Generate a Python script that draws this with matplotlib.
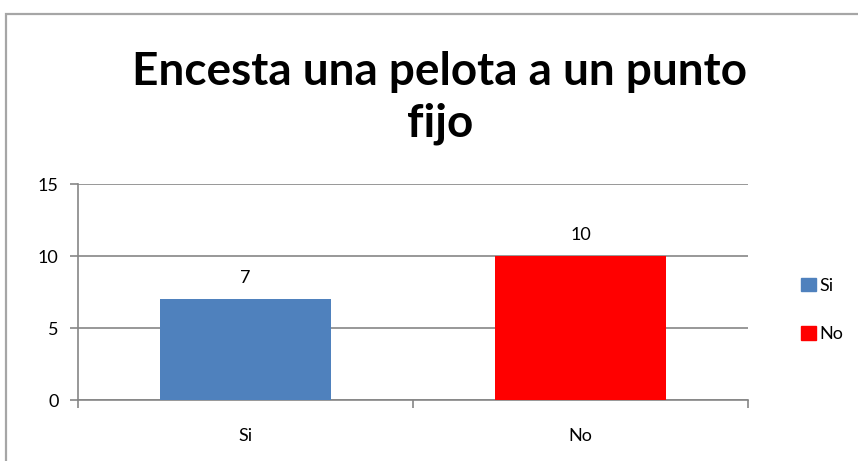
import matplotlib.pyplot as plt
import matplotlib.patches as mpatches

# Datos
categorias = ["Si", "No"]
valores = [7, 10]
colores = ["#4F81BD", "#FF0000"]
titulo = "Encesta una pelota a un punto\nfijo"
y_ticks = [0, 5, 10, 15]

plt.rcParams["font.family"] = ["Lato", "DejaVu Sans"]
gris = "#868686"

fig = plt.figure(figsize=(8.58, 4.61), dpi=100)
ax = fig.add_axes([78 / 858, 1 - 400 / 461, 670 / 858, 216 / 461])

# Marco del gráfico
borde = mpatches.Rectangle((6 / 858, -0.05), 1.1, 1 - 14 / 461 + 0.05, transform=fig.transFigure,
                           fill=False, edgecolor="#A6A6A6", linewidth=1.6, clip_on=False)
fig.patches.append(borde)

x = list(range(len(categorias)))
barras = ax.bar(x, valores, width=0.51, color=colores, zorder=3)
for xi, v in zip(x, valores):
    ax.text(xi, v + 0.9, str(v), ha="center", va="bottom", fontsize=13)

ax.set_xlim(-0.5, 1.5)
ax.set_ylim(0, 15)
ax.set_yticks(y_ticks)
ax.yaxis.grid(True, color=gris, linewidth=1.2, zorder=0)
ax.set_axisbelow(True)

ax.set_xticks([-0.5, 0.5, 1.5])
ax.set_xticklabels([])
ax.set_xticks(x, minor=True)
ax.set_xticklabels(categorias, minor=True, fontsize=13)
ax.tick_params(axis="x", which="minor", length=0, pad=20)
ax.tick_params(axis="x", which="major", length=6, color=gris, width=1.2)
ax.tick_params(axis="y", length=6, color=gris, width=1.2, labelsize=13, pad=8)

for lado in ["top", "right"]:
    ax.spines[lado].set_visible(False)
for lado in ["left", "bottom"]:
    ax.spines[lado].set_color(gris)
    ax.spines[lado].set_linewidth(1.2)

fig.text(440 / 858, 1 - 98 / 461, titulo, ha="center", va="center", fontsize=33,
         fontweight="bold", linespacing=1.3)

handles = [mpatches.Patch(color=c, label=l) for c, l in zip(colores, categorias)]
fig.legend(handles=handles, loc="center left", bbox_to_anchor=(785 / 858, 1 - 310 / 461),
           frameon=False, fontsize=13, handlelength=0.8, handleheight=0.8,
           handletextpad=0.2, labelspacing=1.8)

fig.savefig("out.png", dpi=100)
